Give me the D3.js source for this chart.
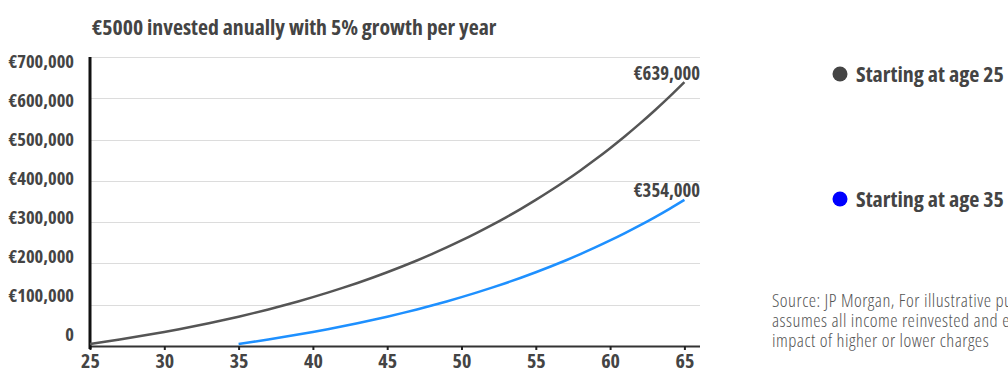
<!DOCTYPE html>
<html>
<head>
<meta charset="utf-8">
<script src="https://cdn.jsdelivr.net/npm/d3@7"></script>
<style>
    body { margin: 0; background: #fff; overflow: hidden; }
    svg text { font-family: "Open Sans", sans-serif; font-stretch: condensed; }
</style>
</head>
<body>
<div id="chart"></div>
<script>
// ages on the x axis
const ages25 = d3.range(25, 66);
const ages35 = d3.range(35, 66);

// portfolio value at each age (EUR)
const values25 = [5000, 10250, 15763, 21551, 27628, 34010, 40710, 47746, 55133, 62889,
    71034, 79586, 88565, 97993, 107893, 118287, 129202, 140662, 152695, 165330,
    178596, 192526, 207152, 222510, 238635, 255567, 273346, 292013, 311614, 332194,
    353804, 376494, 400319, 425335, 451602, 479182, 508141, 538548, 570475, 603999, 639199];
const values35 = [5000, 10250, 15763, 21551, 27628, 34010, 40710, 47746, 55133, 62889,
    71034, 79586, 88565, 97993, 107893, 118287, 129202, 140662, 152695, 165330,
    178596, 192526, 207152, 222510, 238635, 255567, 273346, 292013, 311614, 332194, 353804];

const xTicks = [25, 30, 35, 40, 45, 50, 55, 60, 65];
const yTicks = [0, 100000, 200000, 300000, 400000, 500000, 600000, 700000];
const yTickLabels = ['0', '€100,000', '€200,000', '€300,000', '€400,000', '€500,000', '€600,000', '€700,000'];
const endLabels = ['€639,000', '€354,000'];
const legendLabels = ['Starting at age 25', 'Starting at age 35'];
const sourceLines = [
    'Source: JP Morgan, For illustrative purposes only. Example',
    'assumes all income reinvested and excludes the',
    'impact of higher or lower charges'
];

const W = 1008, H = 374;
const plot = { left: 90, right: 700, top: 57, bottom: 346 };
const textColor = '#444';
const grayLine = '#555';
const blueLine = '#1e90ff';

const svg = d3.select('#chart').append('svg')
    .attr('width', W)
    .attr('height', H);

const x = d3.scaleLinear().domain([25, 65]).range([plot.left, plot.left + 74.3 * 8]);
const y = d3.scaleLinear().domain([0, 700000]).range([plot.bottom, plot.top]);
// tick labels sit on their own, slightly tighter spacing
const yLab = d3.scaleLinear().domain([0, 700000]).range([335, 62]);

// title
svg.append('text')
    .attr('x', 92)
    .attr('y', 27)
    .attr('dy', '0.35em')
    .attr('fill', textColor)
    .style('font-size', '21.8px')
    .style('font-weight', 700)
    .text('€5000 invested anually with 5% growth per year');

// grid
svg.append('g')
    .selectAll('line')
    .data(yTicks.filter(d => d > 0))
    .enter()
    .append('line')
    .attr('x1', plot.left)
    .attr('x2', plot.right)
    .attr('y1', d => Math.round(y(d)) + 0.5)
    .attr('y2', d => Math.round(y(d)) + 0.5)
    .attr('stroke', '#dcdcdc')
    .attr('stroke-width', 1);

// y labels
svg.append('g')
    .selectAll('text')
    .data(yTicks)
    .enter()
    .append('text')
    .attr('x', 74)
    .attr('y', d => yLab(d))
    .attr('dy', '0.35em')
    .attr('text-anchor', 'end')
    .attr('fill', textColor)
    .style('font-size', '18.5px')
    .style('font-weight', 700)
    .text((d, i) => yTickLabels[i]);

// x axis
const xAxis = svg.append('g')
    .attr('transform', `translate(0,${plot.bottom})`)
    .call(d3.axisBottom(x).tickValues(xTicks).tickSize(4).tickSizeOuter(0));
xAxis.select('.domain')
    .attr('d', `M${plot.left},0.5H${plot.right}`)
    .attr('stroke', '#333')
    .attr('stroke-width', 2);
xAxis.selectAll('.tick line')
    .attr('stroke', '#222')
    .attr('stroke-width', 2);
xAxis.selectAll('.tick text')
    .attr('y', 8)
    .attr('fill', textColor)
    .style('font-size', '20px')
    .style('font-weight', 700);

// y axis line
svg.append('line')
    .attr('x1', plot.left)
    .attr('x2', plot.left)
    .attr('y1', plot.top)
    .attr('y2', plot.bottom + 3)
    .attr('stroke', '#111')
    .attr('stroke-width', 3);

const line = d3.line()
    .x(d => x(d[0]))
    .y(d => y(d[1]))
    .curve(d3.curveMonotoneX);

svg.append('path')
    .datum(d3.zip(ages25, values25))
    .attr('fill', 'none')
    .attr('stroke', grayLine)
    .attr('stroke-width', 2.5)
    .attr('d', line);

svg.append('path')
    .datum(d3.zip(ages35, values35))
    .attr('fill', 'none')
    .attr('stroke', blueLine)
    .attr('stroke-width', 2.5)
    .attr('d', line);

// end value labels
const ends = [values25[values25.length - 1], values35[values35.length - 1]];
svg.append('g')
    .selectAll('text')
    .data(ends)
    .enter()
    .append('text')
    .attr('x', plot.right)
    .attr('y', d => y(d) - 9)
    .attr('dy', '0.35em')
    .attr('text-anchor', 'end')
    .attr('fill', textColor)
    .style('font-size', '18.7px')
    .style('font-weight', 700)
    .text((d, i) => endLabels[i]);

// legend
const legendColors = ['#444', '#0000ff'];
const legend = svg.append('g');
legendLabels.forEach((label, i) => {
    const item = legend.append('g')
        .attr('transform', `translate(840, ${74 + i * 125})`);
    item.append('circle')
        .attr('r', 7.5)
        .attr('fill', legendColors[i]);
    item.append('text')
        .attr('x', 16)
        .attr('dy', '0.35em')
        .attr('fill', textColor)
        .style('font-size', '22px')
        .style('font-weight', 700)
        .text(label);
});

// source note
svg.append('g')
    .selectAll('text')
    .data(sourceLines)
    .enter()
    .append('text')
    .attr('x', 772)
    .attr('y', (d, i) => 301 + i * 20)
    .attr('dy', '0.35em')
    .attr('fill', '#555')
    .style('font-size', '18.5px')
    .style('font-stretch', 'semi-condensed')
    .style('letter-spacing', '0.5px')
    .style('font-weight', 300)
    .text(d => d);
</script>
</body>
</html>
